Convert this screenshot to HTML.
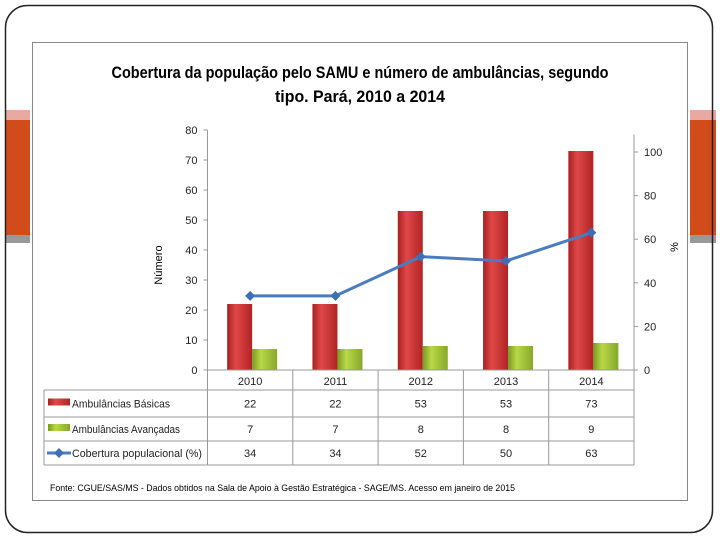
<!DOCTYPE html>
<html><head><meta charset="utf-8"><style>
body{margin:0;width:720px;height:540px;background:#fff;overflow:hidden;font-family:"Liberation Sans",sans-serif;}
svg text{font-family:"Liberation Sans",sans-serif;}
</style></head><body>
<svg width="720" height="540">
<defs>
<linearGradient id="rg" x1="0" x2="1"><stop offset="0" stop-color="#a82020"/><stop offset="0.35" stop-color="#e04848"/><stop offset="1" stop-color="#b02424"/></linearGradient>
<linearGradient id="gg" x1="0" x2="1"><stop offset="0" stop-color="#7a9a20"/><stop offset="0.35" stop-color="#b8d848"/><stop offset="1" stop-color="#86a82a"/></linearGradient>
</defs>
<rect x="5" y="110" width="25" height="10" fill="#e8aaa0"/>
<rect x="5" y="120" width="25" height="115" fill="#d24b1a"/>
<rect x="5" y="235" width="25" height="8" fill="#999"/>
<rect x="690" y="110" width="26" height="10" fill="#e8aaa0"/>
<rect x="690" y="120" width="26" height="115" fill="#d24b1a"/>
<rect x="690" y="235" width="26" height="8" fill="#999"/>
<rect x="5.5" y="5.5" width="707" height="527" rx="22" fill="none" stroke="#222" stroke-width="1.5"/>
<rect x="32.5" y="42.5" width="655" height="458" fill="#fff" stroke="#888"/>
<text x="360" y="78" font-size="17" font-weight="bold" text-anchor="middle" textLength="497" lengthAdjust="spacingAndGlyphs">Cobertura da população pelo SAMU e número de ambulâncias, segundo</text>
<text x="360" y="102" font-size="17" font-weight="bold" text-anchor="middle" textLength="170" lengthAdjust="spacingAndGlyphs">tipo. Pará, 2010 a 2014</text>
<text transform="translate(162,265) rotate(-90)" font-size="11" text-anchor="middle">Número</text>
<text transform="translate(678,247) rotate(-90)" font-size="11" text-anchor="middle">%</text>
<g id="plot"></g>
<text x="50" y="491" font-size="9.5" textLength="465" lengthAdjust="spacingAndGlyphs">Fonte: CGUE/SAS/MS - Dados obtidos na Sala de Apoio à Gestão Estratégica - SAGE/MS. Acesso em janeiro de 2015</text>
</svg>
<script>
const categories=["2010","2011","2012","2013","2014"];
const basicas=[22,22,53,53,73];
const avancadas=[7,7,8,8,9];
const cobertura=[34,34,52,50,63];
const leftTicks=[0,10,20,30,40,50,60,70,80];
const rightTicks=[0,20,40,60,80,100];
const seriesNames=["Ambulâncias Básicas","Ambulâncias Avançadas","Cobertura populacional (%)"];
const NS="http://www.w3.org/2000/svg";
const g=document.getElementById('plot');
const X0=207.5,CW=85.3,Y0=370,X1=X0+CW*5;
const yL=v=>Y0-v*3.0;
const yR=v=>Y0-v*2.18;
const xc=i=>X0+CW*(i+0.5);
function mk(t,a,p){const e=document.createElementNS(NS,t);for(const k in a)e.setAttribute(k,a[k]);(p||g).appendChild(e);return e;}
function tx(x,y,s,anchor){const e=mk('text',{x:x,y:y,'font-size':11,'text-anchor':anchor||'middle',fill:'#222'});e.textContent=s;return e;}
let e;
e=mk('line',{x1:X0,y1:yL(80),x2:X0,y2:Y0,stroke:'#999'});

e=mk('line',{x1:X1,y1:yR(108),x2:X1,y2:Y0,stroke:'#999'});

leftTicks.forEach(v=>{mk('line',{x1:X0-4,y1:yL(v),x2:X0,y2:yL(v),stroke:'#999'});
 e=tx(X0-10,yL(v)+4,String(v),'end');
 });
rightTicks.forEach(v=>{mk('line',{x1:X1,y1:yR(v),x2:X1+4,y2:yR(v),stroke:'#999'});
 e=tx(X1+10,yR(v)+4,String(v),'start');
 });
categories.forEach((c,i)=>{
 e=mk('rect',{x:xc(i)-23,y:yL(basicas[i]),width:25,height:Y0-yL(basicas[i]),fill:'url(#rg)'});
 
 e=mk('rect',{x:xc(i)+2,y:yL(avancadas[i]),width:25,height:Y0-yL(avancadas[i]),fill:'url(#gg)'});
 
});
e=mk('polyline',{points:cobertura.map((v,i)=>xc(i)+','+yR(v)).join(' '),fill:'none',stroke:'#4a7cc0','stroke-width':3});

cobertura.forEach((v,i)=>{const x=xc(i),y=yR(v);
 e=mk('polygon',{points:`${x-5},${y} ${x},${y-5} ${x+5},${y} ${x},${y+5}`,fill:'#3d6fb5'});
 });
const rows=[390,417,441,465];const TL=44;
const legendLen=[98,108,130];
mk('line',{x1:X0,y1:Y0,x2:X1,y2:Y0,stroke:'#999'});
rows.forEach(y=>mk('line',{x1:TL,y1:y,x2:X1,y2:y,stroke:'#999'}));
mk('line',{x1:TL,y1:rows[0],x2:TL,y2:rows[3],stroke:'#999'});
for(let i=0;i<=5;i++)mk('line',{x1:X0+CW*i,y1:Y0,x2:X0+CW*i,y2:rows[3],stroke:'#999'});
categories.forEach((c,i)=>{e=tx(xc(i),385,c);
 });
const tableData=[basicas,avancadas,cobertura];
tableData.forEach((arr,r)=>{const ym=(rows[r]+rows[r+1])/2+4;
 arr.forEach((v,i)=>{e=tx(xc(i),ym,String(v));
  });
 if(r===0)e=mk('rect',{x:48,y:ym-9,width:22,height:7,fill:'url(#rg)'});
 else if(r===1)e=mk('rect',{x:48,y:ym-9,width:22,height:7,fill:'url(#gg)'});
 else{e=mk('line',{x1:47,y1:ym-4,x2:71,y2:ym-4,stroke:'#4a7cc0','stroke-width':3});
  mk('polygon',{points:`54,${ym-4} 59,${ym-9} 64,${ym-4} 59,${ym+1}`,fill:'#3d6fb5'});}
 
 e=tx(72,ym,seriesNames[r],'start');
 e.setAttribute('textLength',legendLen[r]);e.setAttribute('lengthAdjust','spacingAndGlyphs');
 
});
</script>
</body></html>
